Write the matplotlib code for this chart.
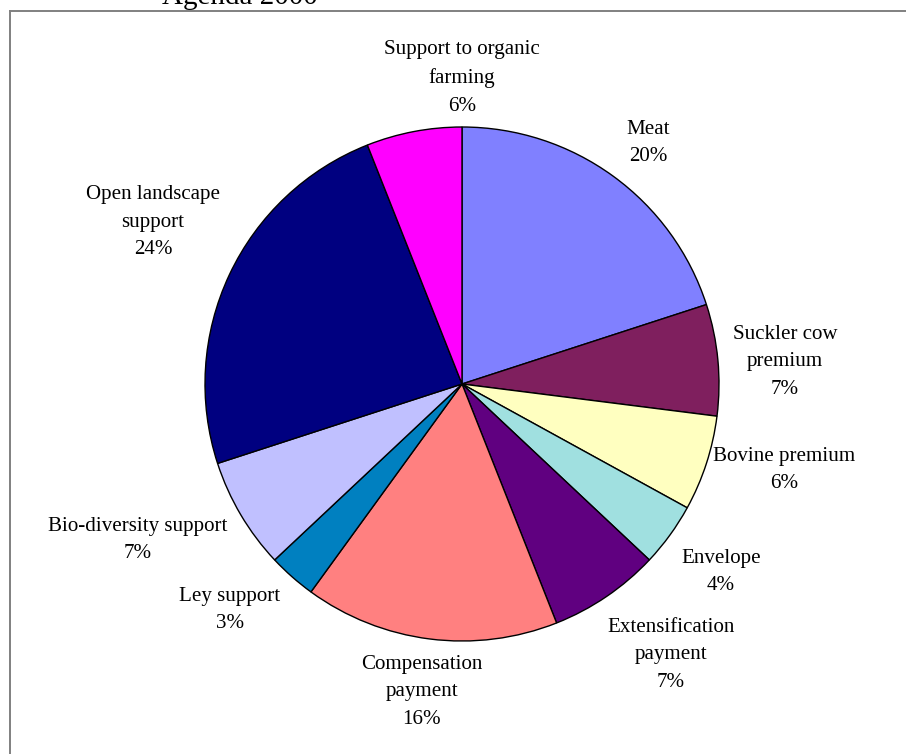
"""Agenda 2000 support payments - pie of shares by support type."""
import numpy as np
import matplotlib
matplotlib.use("Agg")
import matplotlib.pyplot as plt
from matplotlib.lines import Line2D

categories = [
    "Meat",
    "Suckler cow\npremium",
    "Bovine premium",
    "Envelope",
    "Extensification\npayment",
    "Compensation\npayment",
    "Ley support",
    "Bio-diversity support",
    "Open landscape\nsupport",
    "Support to organic\nfarming",
]
shares = [20, 7, 6, 4, 7, 16, 3, 7, 24, 6]
colors = ["#8080FF", "#7F1F5E", "#FFFFC0", "#A0E0E0", "#600080",
          "#FF8080", "#0080C0", "#C0C0FF", "#000080", "#FF00FF"]

# label centres, in pie radii from the centre
label_pos = [(0.724, 0.938), (1.257, 0.086), (1.253, -0.335), (1.008, -0.732),
             (0.813, -1.054), (-0.156, -1.198), (-0.903, -0.879),
             (-1.261, -0.607), (-1.202, 0.630), (0.0, 1.19)]

W, H, DPI = 906, 754, 100
cx, cy, r = 462, 384, 257  # pixels, cy from top

fig = plt.figure(figsize=(W / DPI, H / DPI), dpi=DPI)
ax = fig.add_axes([0, 0, 1, 1])

ax.pie(shares, colors=colors, startangle=90, counterclock=False,
       radius=1.0, center=(0, 0), frame=True,
       wedgeprops=dict(edgecolor="black", linewidth=1.0))
ax.set_xlim(-cx / r, (W - cx) / r)
ax.set_ylim(-(H - cy) / r, cy / r)
ax.set_aspect("auto")
ax.axis("off")

font = ["Liberation Serif", "DejaVu Serif"]
for name, val, (lx, ly) in zip(categories, shares, label_pos):
    ax.text(lx, ly, f"{name}\n{val}%", ha="center", va="center",
            fontsize=15.1, family=font, linespacing=1.62, color="black")

# chart area border (top and left edges visible)
fig.add_artist(Line2D([10 / W, 1.0], [1 - 11 / H, 1 - 11 / H],
                      transform=fig.transFigure, color="#808080", lw=1.4))
fig.add_artist(Line2D([10 / W, 10 / W], [0, 1 - 11 / H],
                      transform=fig.transFigure, color="#808080", lw=1.4))

fig.text(240 / W, 1 - 4 / H, "Agenda 2000", ha="center", va="baseline",
         fontsize=21, family=font)

fig.savefig("out.png", dpi=DPI)
